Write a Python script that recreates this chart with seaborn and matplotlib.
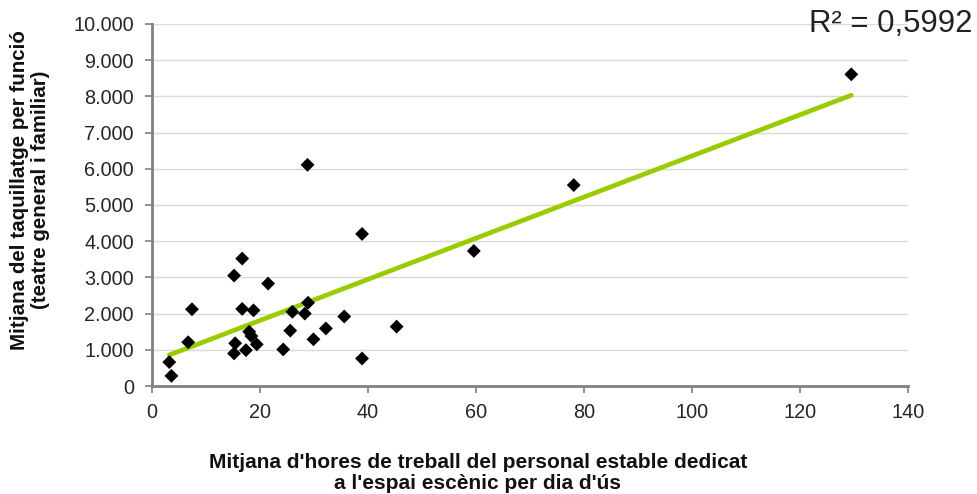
import numpy as np
import pandas as pd
import seaborn as sns
import matplotlib
matplotlib.use("Agg")
import matplotlib.pyplot as plt
from matplotlib.ticker import FuncFormatter, MultipleLocator

# hours of stable staff per day of use vs. average box office per show
hores = [3.2, 3.6, 6.7, 7.4, 15.2, 16.7, 15.4, 15.2, 16.7, 17.4, 18.8, 18.0,
         18.4, 19.4, 21.5, 24.3, 25.6, 26.0, 28.3, 28.9, 29.9, 32.2, 35.6,
         38.9, 38.9, 45.3, 28.8, 59.6, 78.1, 129.5]
taquillatge = [660, 280, 1210, 2120, 3050, 3520, 1180, 900, 2130, 990, 2090,
               1500, 1380, 1150, 2830, 1010, 1530, 2050, 2000, 2300, 1290, 1590,
               1920, 760, 4200, 1640, 6110, 3730, 5550, 8610]
r2_label = "R² = 0,5992"
xlabel = "Mitjana d'hores de treball del personal estable dedicat\na l'espai escènic per dia d'ús"
ylabel = "Mitjana del taquillatge per funció\n(teatre general i familiar)"

df = pd.DataFrame({"x": hores, "y": taquillatge})

sns.set_style("white")
plt.rcParams["font.family"] = ["Liberation Sans", "DejaVu Sans"]

fig = plt.figure(figsize=(9.78, 4.94), dpi=100)
ax = fig.add_axes([152 / 978, 1 - 386 / 494, (908 - 152) / 978, (386 - 24) / 494])

# linear trend line over the data range
slope, intercept = np.polyfit(df["x"], df["y"], 1)
trend = pd.DataFrame({"x": [df["x"].min(), df["x"].max()]})
trend["y"] = intercept + slope * trend["x"]
sns.lineplot(data=trend, x="x", y="y", color="#99CC00", linewidth=3.4, ax=ax, zorder=2)

sns.scatterplot(data=df, x="x", y="y", marker="D", color="black", s=50,
                edgecolor="none", ax=ax, zorder=3)

ax.set_xlim(0, 140)
ax.set_ylim(0, 10000)
ax.xaxis.set_major_locator(MultipleLocator(20))
ax.yaxis.set_major_locator(MultipleLocator(1000))
ax.yaxis.set_major_formatter(FuncFormatter(lambda v, p: f"{int(v):,}".replace(",", ".")))
ax.grid(axis="y", color="#d9d9d9", linewidth=1)
ax.set_axisbelow(True)

for s in ["top", "right"]:
    ax.spines[s].set_visible(False)
for s in ["left", "bottom"]:
    ax.spines[s].set_color("#808080")
    ax.spines[s].set_linewidth(2)
ax.tick_params(axis="both", direction="out", length=5, width=1.2, color="#808080",
               labelsize=14.3, labelcolor="#262626", left=True, bottom=True)
ax.tick_params(axis="y", pad=8)
ax.tick_params(axis="x", pad=7)
ax.set_xlabel("")
ax.set_ylabel("")

fig.text(478 / 978, 1 - 473 / 494, xlabel, ha="center", va="center",
         fontsize=15, fontweight="bold", color="#111111", linespacing=1.1)
fig.text(30 / 978, 1 - 190 / 494, ylabel, ha="center", va="center", rotation=90,
         fontsize=14.8, fontweight="bold", color="#111111", linespacing=1.1)
fig.text(973 / 978, 1 - 24 / 494, r2_label, ha="right", va="center",
         fontsize=22.4, color="#222222")

fig.savefig("out.png", dpi=100)
